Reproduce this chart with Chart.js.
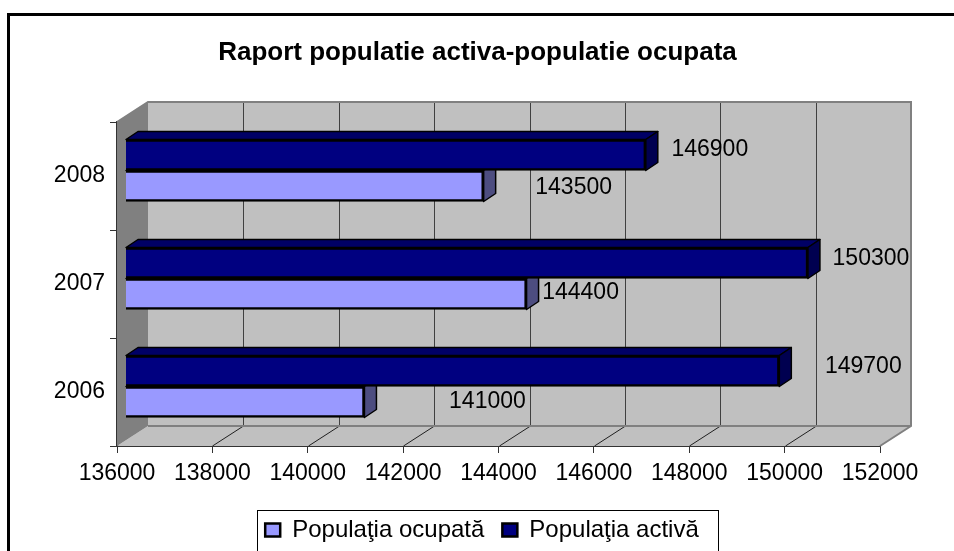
<!DOCTYPE html>
<html>
<head>
<meta charset="utf-8">
<style>html,body{margin:0;padding:0;background:#fff}canvas{display:block}</style>
<script src="https://cdn.jsdelivr.net/npm/chart.js@4/dist/chart.umd.min.js"></script>
</head>
<body>
<canvas id="c" width="954" height="551" style="width:954px;height:551px"></canvas>
<script>
const categories = ['2008', '2007', '2006'];
const populatiaOcupata = [143500, 144400, 141000];
const populatiaActiva = [146900, 150300, 149700];
const seriesNames = ['Populaţia ocupată', 'Populaţia activă'];
const chartTitle = 'Raport populatie activa-populatie ocupata';

const FONT = '"Liberation Sans", Arial, sans-serif';
const BAR_SHIFT = {x: 9, y: -5.5};
const BAR_DEPTH = {x: 12, y: -8};
const WALL_DEPTH = {x: 31, y: -20};
// hand placement of value labels relative to bar ends, [dx, dy]
const occupiedLabelOffsets = [[99, -4], [63, -7], [132, -6]];
const activeLabelOffsets = [[73, -11], [72, -10], [93, -10]];

const scene = {
  id: 'scene',
  afterLayout(chart) {
    const l = chart.legend;
    l.left += 42; l.right += 42; l.top += 1; l.bottom += 1;
    const t = chart.titleBlock;
    t.left += 37.5; t.right += 37.5;
  },
  beforeDraw(chart) {
    const {ctx} = chart;
    ctx.save();
    ctx.strokeStyle = '#000';
    ctx.lineWidth = 3;
    ctx.beginPath();
    ctx.moveTo(8.5, 552);
    ctx.lineTo(8.5, 14.5);
    ctx.lineTo(954, 14.5);
    ctx.stroke();
    ctx.lineWidth = 1;
    ctx.strokeRect(257.5, 510.5, 461, 60);
    ctx.restore();
  },
  beforeDatasetsDraw(chart) {
    const {ctx, chartArea: a, scales: {x}} = chart;
    const d = WALL_DEPTH;
    ctx.save();
    ctx.lineWidth = 2;
    ctx.strokeStyle = '#808080';
    // back wall
    ctx.fillStyle = '#C0C0C0';
    ctx.fillRect(a.left + d.x, a.top + d.y, a.right - a.left, a.bottom - a.top);
    // floor
    ctx.beginPath();
    ctx.moveTo(a.left, a.bottom);
    ctx.lineTo(a.left + d.x, a.bottom + d.y);
    ctx.lineTo(a.right + d.x, a.bottom + d.y);
    ctx.lineTo(a.right, a.bottom);
    ctx.closePath();
    ctx.fill();
    // left wall
    ctx.fillStyle = '#808080';
    ctx.beginPath();
    ctx.moveTo(a.left, a.top);
    ctx.lineTo(a.left + d.x, a.top + d.y);
    ctx.lineTo(a.left + d.x, a.bottom + d.y);
    ctx.lineTo(a.left, a.bottom);
    ctx.closePath();
    ctx.fill();
    // grid on back wall and floor
    ctx.lineWidth = 1;
    x.ticks.forEach(t => {
      const px = Math.round(x.getPixelForValue(t.value)) + 0.5;
      if (t.value > x.min && t.value < x.max) {
        ctx.strokeStyle = '#404040';
        ctx.beginPath();
        ctx.moveTo(px + d.x, a.top + d.y);
        ctx.lineTo(px + d.x, a.bottom + d.y);
        ctx.stroke();
        ctx.strokeStyle = '#202020';
        ctx.beginPath();
        ctx.moveTo(px, a.bottom);
        ctx.lineTo(px + d.x, a.bottom + d.y);
        ctx.stroke();
      }
    });
    // back wall edges
    ctx.strokeStyle = '#808080';
    ctx.lineWidth = 2;
    ctx.beginPath();
    ctx.moveTo(a.left, a.top);
    ctx.lineTo(a.left + d.x, a.top + d.y);
    ctx.lineTo(a.right + d.x, a.top + d.y);
    ctx.lineTo(a.right + d.x, a.bottom + d.y);
    ctx.lineTo(a.right, a.bottom);
    ctx.moveTo(a.left + d.x, a.bottom + d.y);
    ctx.lineTo(a.right + d.x, a.bottom + d.y);
    ctx.stroke();
    ctx.restore();

    ctx.save();
    ctx.translate(BAR_SHIFT.x, BAR_SHIFT.y);
    // bar depth faces, light series first
    const shades = [{top: '#4D4D80', side: '#4D4D80'}, {top: '#000066', side: '#000050'}];
    [0, 1].forEach(i => {
      chart.getDatasetMeta(i).data.forEach(el => {
        const p = el.getProps(['x', 'y', 'height'], true);
        const t = p.y - p.height / 2, b = p.y + p.height / 2;
        const dx = BAR_DEPTH.x, dy = BAR_DEPTH.y;
        ctx.lineWidth = 1.5;
        ctx.strokeStyle = '#000';
        ctx.lineJoin = 'round';
        ctx.fillStyle = shades[i].top;
        ctx.beginPath();
        ctx.moveTo(a.left, t);
        ctx.lineTo(a.left + dx, t + dy);
        ctx.lineTo(p.x + dx, t + dy);
        ctx.lineTo(p.x, t);
        ctx.closePath();
        ctx.fill();
        ctx.stroke();
        ctx.fillStyle = shades[i].side;
        ctx.beginPath();
        ctx.moveTo(p.x, t);
        ctx.lineTo(p.x + dx, t + dy);
        ctx.lineTo(p.x + dx, b + dy);
        ctx.lineTo(p.x, b);
        ctx.closePath();
        ctx.fill();
        ctx.stroke();
      });
    });
  },
  afterDatasetsDraw(chart) {
    const {ctx} = chart;
    ctx.restore();
    ctx.save();
    ctx.fillStyle = '#000';
    ctx.font = '23px ' + FONT;
    ctx.textAlign = 'center';
    ctx.textBaseline = 'middle';
    [occupiedLabelOffsets, activeLabelOffsets].forEach((offs, i) => {
      const values = chart.data.datasets[i].data;
      chart.getDatasetMeta(i).data.forEach((el, j) => {
        const p = el.getProps(['x', 'y'], true);
        ctx.fillText(String(values[j]), p.x + offs[j][0], p.y + offs[j][1]);
      });
    });
    ctx.restore();
  }
};

new Chart(document.getElementById('c'), {
  type: 'bar',
  plugins: [scene],
  data: {
    labels: categories,
    datasets: [
      {label: seriesNames[0], data: populatiaOcupata, backgroundColor: '#9999FF', borderColor: '#000', borderWidth: 2.5, order: 2, borderSkipped: false},
      {label: seriesNames[1], data: populatiaActiva, backgroundColor: '#000080', borderColor: '#000', borderWidth: 2.5, order: 1, borderSkipped: false}
    ]
  },
  options: {
    indexAxis: 'y',
    responsive: false,
    animation: false,
    layout: {padding: {left: 0, right: 74, top: 0, bottom: 0}},
    datasets: {bar: {barThickness: 31}},
    plugins: {
      tooltip: {enabled: false},
      title: {
        display: true,
        text: chartTitle,
        color: '#000',
        font: {family: FONT, size: 26, weight: 'bold', lineHeight: 1},
        padding: {top: 39.5, bottom: 56.5}
      },
      legend: {
        display: true,
        position: 'bottom',
        labels: {
          color: '#000',
          boxWidth: 15,
          boxHeight: 13,
          padding: 18,
          font: {family: FONT, size: 24},
          sort: (a, b) => a.datasetIndex - b.datasetIndex
        }
      }
    },
    scales: {
      x: {
        type: 'linear',
        min: 136000,
        max: 152000,
        afterFit(s) { s.height = 53; },
        grid: {drawOnChartArea: false, drawTicks: true, tickLength: 7, color: '#333'},
        border: {display: true, color: '#333', width: 2},
        ticks: {
          stepSize: 2000,
          color: '#000',
          padding: 7,
          maxRotation: 0,
          autoSkip: false,
          font: {family: FONT, size: 23},
          callback: v => String(v)
        }
      },
      y: {
        afterFit(s) { s.width = 117; },
        grid: {drawOnChartArea: false, drawTicks: true, tickLength: 7, color: '#333'},
        border: {display: true, color: '#333', width: 2},
        ticks: {color: '#000', padding: 5, font: {family: FONT, size: 23}}
      }
    }
  }
});
</script>
</body>
</html>
